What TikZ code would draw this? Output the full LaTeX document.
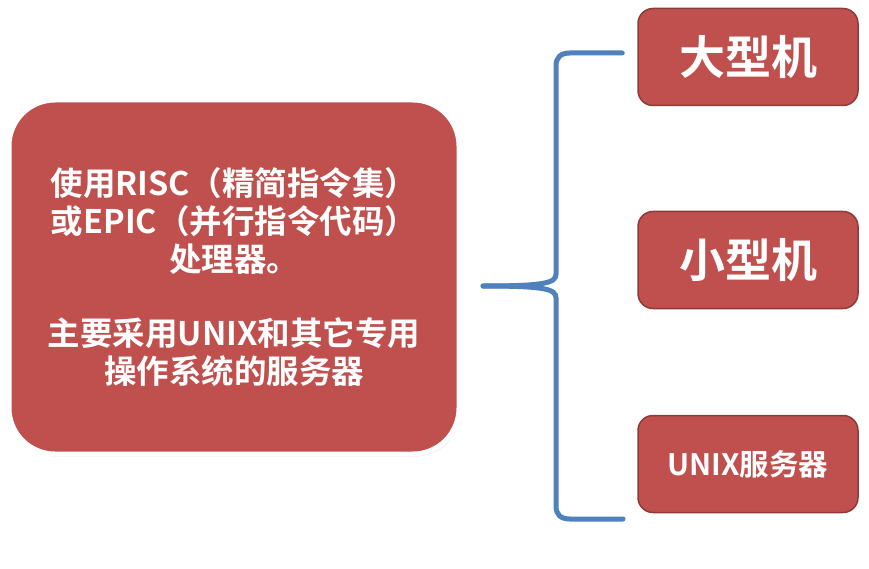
\documentclass[tikz,border=0pt]{standalone}
\usepackage{fontspec}
\newfontfamily\cjk{Noto Sans CJK SC}[BoldFont={Noto Sans CJK SC Bold}]
\usetikzlibrary{shadows,calc}
\definecolor{boxred}{HTML}{C0504D}
\definecolor{boxline}{HTML}{8C3B39}
\definecolor{bracelb}{HTML}{4F81BD}

\begin{document}
\begin{tikzpicture}[x=1pt,y=-1pt,
  infobox/.style={rectangle,rounded corners=46pt,fill=boxred,draw=white,line width=5pt,
    minimum width=450pt,minimum height=354pt,text=white,align=center,
    font=\cjk\bfseries\fontsize{32.5}{38}\selectfont,
    drop shadow={opacity=0.25,shadow xshift=1.5pt,shadow yshift=-2.5pt}},
  kindbox/.style={rectangle,rounded corners=15pt,fill=boxred,draw=boxline,line width=1.5pt,
    minimum width=220pt,minimum height=97pt,text=white,font=\cjk\bfseries},
  brace/.style={draw=bracelb,line width=5pt,line cap=round}]
\useasboundingbox[fill=white] (0,0) rectangle (869,569);
\node[infobox] (info) at (234,277) {使用RISC（精简指令集）\\或EPIC（并行指令代码）\\处理器。\\[36pt]主要采用UNIX和其它专用\\操作系统的服务器};
\node[kindbox,font=\cjk\bfseries\fontsize{46}{50}\selectfont] (big) at (748,57) {大型机};
\node[kindbox,font=\cjk\bfseries\fontsize{46}{50}\selectfont] (mini) at (748,260) {小型机};
\node[kindbox,font=\cjk\bfseries\fontsize{29.5}{34}\selectfont] (unix) at (748,464) {UNIX服务器};
\coordinate (tip) at (483,286);
\coordinate (armtop) at ($(big.west)+(-15,-4)$);
\coordinate (armbot) at (623,519);
\draw[brace] (armtop) -- (570,53) .. controls (561,53) and (556,57) .. (556,66) -- (556,274)
  .. controls (556,283) and (545,286) .. (tip);
\draw[brace] (tip) .. controls (545,286) and (556,289) .. (556,298) -- (556,506)
  .. controls (556,515) and (561,519) .. (570,519) -- (armbot);
\end{tikzpicture}
\end{document}
